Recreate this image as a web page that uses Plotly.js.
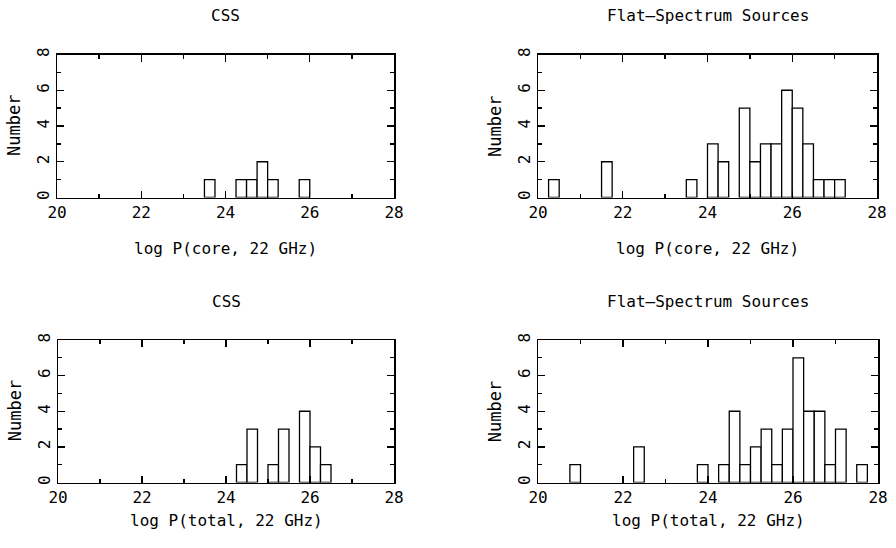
<!DOCTYPE html>
<html>
<head>
<meta charset="utf-8">
<script src="https://cdn.plot.ly/plotly-3.0.1.min.js"></script>
<style>html,body{margin:0;padding:0;background:#fff;}#chart{width:896px;height:548px;}</style>
</head>
<body>
<div id="chart"></div>
<script>
// Bin width 0.25 in log P; arrays give bin lower edge and count
var binWidth = 0.25;

var cssCoreBins   = [23.5, 24.25, 24.5, 24.75, 25.0, 25.75];
var cssCoreCounts = [1, 1, 1, 2, 1, 1];

var flatCoreBins   = [20.25, 21.5, 23.5, 24.0, 24.25, 24.75, 25.0, 25.25, 25.5, 25.75, 26.0, 26.25, 26.5, 26.75, 27.0];
var flatCoreCounts = [1, 2, 1, 3, 2, 5, 2, 3, 3, 6, 5, 3, 1, 1, 1];

var cssTotalBins   = [24.25, 24.5, 25.0, 25.25, 25.75, 26.0, 26.25];
var cssTotalCounts = [1, 3, 1, 3, 4, 2, 1];

var flatTotalBins   = [20.75, 22.25, 23.75, 24.25, 24.5, 24.75, 25.0, 25.25, 25.5, 25.75, 26.0, 26.25, 26.5, 26.75, 27.0, 27.5];
var flatTotalCounts = [1, 2, 1, 1, 4, 1, 2, 3, 1, 3, 7, 4, 4, 1, 3, 1];

var panelTitles = ["CSS", "Flat\u2013Spectrum Sources", "CSS", "Flat\u2013Spectrum Sources"];
var xTitles = ["log P(core, 22 GHz)", "log P(core, 22 GHz)", "log P(total, 22 GHz)", "log P(total, 22 GHz)"];
var yTitle = "Number";

var W = 896, H = 548;
function px(x){ return x / W; }
function py(y){ return 1 - y / H; }

var FONT = {family: "DejaVu Sans Mono", size: 16, color: "black"};

function barTrace(bins, counts, xa, ya){
  return {
    type: "bar", x: bins, y: counts, width: binWidth, offset: 0,
    xaxis: xa, yaxis: ya,
    marker: {color: "white", line: {color: "black", width: 1.3}},
    hoverinfo: "skip", showlegend: false
  };
}
function emptyTrace(xa, ya){
  return {type: "scatter", mode: "none", x: [], y: [], xaxis: xa, yaxis: ya, hoverinfo: "skip", showlegend: false};
}

var data = [
  barTrace(cssCoreBins, cssCoreCounts, "x", "y"),
  barTrace(flatCoreBins, flatCoreCounts, "x2", "y2"),
  barTrace(cssTotalBins, cssTotalCounts, "x3", "y3"),
  barTrace(flatTotalBins, flatTotalCounts, "x4", "y4")
];

// plot-area pixel boxes [left, right, top, bottom]
var boxes = [
  [57, 394, 54.5, 197.5],
  [538, 877, 54.5, 197.5],
  [58, 394, 340, 482.5],
  [538, 878, 340, 482.5]
];
var xTitleY = [248, 248, 520, 520];

function id(n){ return n === 1 ? "" : String(n); }

function xAxis(i){
  return {
    domain: [px(boxes[i][0]), px(boxes[i][1])],
    anchor: "y" + id(i + 1),
    range: [20, 28], tick0: 20, dtick: 2,
    ticks: "inside", ticklen: 7, tickwidth: 1.3, tickcolor: "black",
    mirror: "ticks", showline: true, linecolor: "black", linewidth: 1.5,
    showgrid: false, zeroline: false,
    tickfont: FONT
  };
}
function yAxis(i){
  return {
    domain: [py(boxes[i][3]), py(boxes[i][2])],
    anchor: "x" + id(i + 1),
    range: [0, 8], tick0: 0, dtick: 2,
    ticks: "inside", ticklen: 7, tickwidth: 1.3, tickcolor: "black",
    mirror: "ticks", showline: true, linecolor: "black", linewidth: 1.5,
    showgrid: false, zeroline: false,
    tickangle: -90,
    tickfont: FONT
  };
}
// overlay axes carrying the short intermediate ticks
function xMinor(i){
  return {
    overlaying: "x" + id(i + 1), anchor: "y" + id(i + 1),
    range: [20, 28], tick0: 20, dtick: 1,
    ticks: "inside", ticklen: 4, tickwidth: 1.3, tickcolor: "black",
    mirror: "ticks", showline: false, showticklabels: false,
    showgrid: false, zeroline: false
  };
}
function yMinor(i){
  return {
    overlaying: "y" + id(i + 1), anchor: "x" + id(i + 1),
    range: [0, 8], tick0: 0, dtick: 1,
    ticks: "inside", ticklen: 4, tickwidth: 1.3, tickcolor: "black",
    mirror: "ticks", showline: false, showticklabels: false,
    showgrid: false, zeroline: false
  };
}

var layout = {
  width: W, height: H,
  margin: {l: 0, r: 0, t: 0, b: 0},
  showlegend: false, bargap: 0,
  font: FONT
};

for (var i = 0; i < 4; i++){
  layout["xaxis" + id(i + 1)] = xAxis(i);
  layout["yaxis" + id(i + 1)] = yAxis(i);
  layout["xaxis" + (i + 5)] = xMinor(i);
  layout["yaxis" + (i + 5)] = yMinor(i);
  data.push(emptyTrace("x" + (i + 5), "y" + id(i + 1)));
  data.push(emptyTrace("x" + id(i + 1), "y" + (i + 5)));
}

var annotations = [];
for (var i = 0; i < 4; i++){
  var b = boxes[i];
  var cx = (b[0] + b[1]) / 2;
  annotations.push({xref: "paper", yref: "paper", x: px(cx), y: py(b[2] - 39), text: panelTitles[i],
    showarrow: false, xanchor: "center", yanchor: "middle", font: FONT});
  annotations.push({xref: "paper", yref: "paper", x: px(cx), y: py(xTitleY[i]), text: xTitles[i],
    showarrow: false, xanchor: "center", yanchor: "middle", font: FONT});
  annotations.push({xref: "paper", yref: "paper", x: px(b[0] - 43), y: py((b[2] + b[3]) / 2), text: yTitle,
    showarrow: false, xanchor: "center", yanchor: "middle", textangle: -90, font: {family: FONT.family, size: 17, color: "black"}});
}
layout.annotations = annotations;

Plotly.newPlot("chart", data, layout, {displayModeBar: false, staticPlot: true});
</script>
</body>
</html>
